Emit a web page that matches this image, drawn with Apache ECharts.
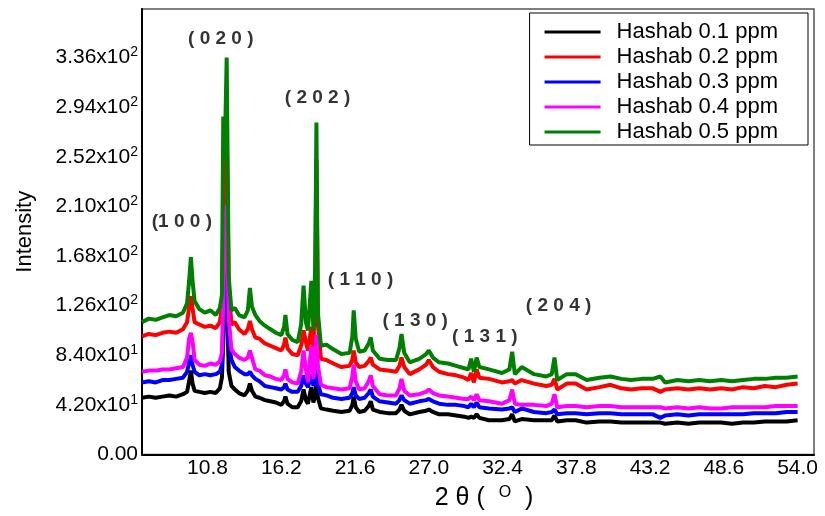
<!DOCTYPE html>
<html>
<head>
<meta charset="utf-8">
<title>XRD Hashab</title>
<script src="https://cdn.jsdelivr.net/npm/echarts@6/dist/echarts.min.js"></script>
<style>
  html, body { margin: 0; padding: 0; background: #fff; }
  #chart { width: 825px; height: 516px; }
</style>
</head>
<body>
<div id="chart"></div>
<script>
// 2 theta positions (deg), shared by all samples
const twoTheta = [
  6.0, 6.5, 7.0, 7.5, 8.0, 8.5, 9.0, 9.3, 9.45, 9.58, 9.7, 9.85, 10.2, 10.6, 11.0, 11.4,
  11.7, 11.85, 11.95, 12.05, 12.2, 12.35, 12.55, 12.8, 13.1, 13.5, 13.75, 13.9, 14.05, 14.3,
  14.6, 15.0, 15.4, 15.8, 16.2, 16.4, 16.5, 16.65, 17.0, 17.4, 17.65, 17.83, 18.0, 18.15,
  18.4, 18.55, 18.68, 18.77, 18.88, 19.1, 19.5, 20.0, 20.6, 21.2, 21.4, 21.5, 21.65, 21.9,
  22.3, 22.6, 22.75, 22.9, 23.4, 24.0, 24.6, 24.85, 25.0, 25.2, 25.6, 26.3, 26.8, 27.0,
  27.3, 27.75, 28.4, 29.0, 29.6, 29.9, 30.1, 30.3, 30.5, 30.7, 31.4, 32.35, 32.9, 33.1,
  33.3, 33.8, 34.7, 35.6, 36.0, 36.2, 36.4, 37.1, 37.75, 38.55, 39.5, 40.3, 41.1, 41.8,
  42.6, 43.4, 43.95, 44.3, 45.2, 46.0, 46.8, 47.6, 48.4, 49.2, 50.0, 50.8, 51.6, 52.4,
  53.2, 54.0
]

const hashab01 = [
  48, 49, 48, 49, 50, 49, 51, 53, 62, 71, 60, 54, 53, 52, 53, 52,
  56, 65, 95, 150, 140, 70, 58, 55, 52, 50, 54, 60, 54, 49,
  48, 46, 45, 44, 42, 45, 49, 43, 40, 40, 45, 55, 46, 43,
  57, 44, 50, 61, 48, 39, 38, 37, 36, 37, 42, 49, 40, 36,
  37, 41, 45, 38, 36, 35, 35, 38, 42, 37, 34, 36, 37, 38,
  36, 34, 34, 33, 32, 31, 32, 31, 34, 31, 29, 29, 30, 34,
  28, 30, 29, 29, 29, 33, 28, 29, 29, 27, 28, 28, 27, 27,
  27, 27, 27, 26, 27, 26, 27, 27, 27, 26, 27, 27, 28, 28,
  28, 29
]

const hashab02 = [
  100, 102, 101, 103, 104, 103, 106, 112, 125, 134, 124, 112, 110, 108, 109, 107,
  112, 125, 200, 240, 283, 140, 110, 112, 106, 102, 106, 113, 106, 99,
  98, 94, 92, 90, 88, 93, 99, 90, 85, 84, 92, 105, 95, 88,
  108, 90, 140, 250, 110, 81, 80, 77, 74, 75, 80, 88, 78, 74,
  75, 79, 82, 76, 72, 71, 70, 75, 82, 74, 68, 72, 76, 80,
  74, 70, 68, 67, 65, 63, 69, 61, 72, 65, 64, 61, 62, 63,
  60, 63, 60, 58, 59, 64, 55, 60, 60, 55, 57, 59, 56, 55,
  56, 56, 53, 55, 56, 55, 56, 55, 56, 55, 57, 56, 58, 57,
  59, 60
]

const hashab03 = [
  61, 62, 61, 63, 63, 64, 65, 70, 78, 84, 76, 70, 67, 68, 67, 68,
  70, 76, 110, 170, 185, 95, 80, 74, 71, 68, 68, 70, 67, 64,
  62, 58, 57, 56, 55, 57, 60, 55, 53, 53, 58, 67, 60, 57,
  68, 58, 62, 74, 60, 51, 50, 48, 47, 48, 52, 57, 50, 47,
  48, 52, 55, 49, 45, 44, 43, 46, 50, 46, 43, 45, 46, 47,
  45, 43, 42, 42, 41, 40, 43, 40, 44, 40, 39, 38, 39, 40,
  36, 39, 36, 35, 36, 38, 34, 35, 35, 34, 35, 35, 34, 34,
  34, 34, 31, 33, 34, 33, 34, 34, 34, 34, 34, 35, 35, 35,
  36, 36
]

const hashab04 = [
  70, 71, 71, 72, 72, 73, 74, 82, 98, 103, 96, 80, 76, 75, 77, 76,
  79, 86, 130, 190, 211, 115, 89, 85, 82, 80, 82, 88, 82, 72,
  71, 67, 66, 64, 63, 67, 72, 64, 61, 60, 70, 88, 72, 61,
  92, 64, 80, 101, 75, 59, 57, 56, 55, 56, 66, 76, 62, 55,
  56, 62, 67, 58, 51, 50, 50, 56, 64, 54, 50, 51, 53, 55,
  52, 50, 49, 48, 47, 47, 49, 46, 51, 46, 45, 43, 46, 55,
  43, 42, 42, 41, 43, 51, 40, 41, 41, 40, 41, 41, 40, 40,
  40, 40, 40, 39, 40, 39, 40, 39, 39, 40, 40, 40, 40, 41,
  41, 41
]

const hashab05 = [
  112, 115, 114, 116, 118, 117, 120, 128, 147, 167, 147, 130, 123, 120, 122, 118,
  124, 135, 286, 250, 336, 150, 122, 124, 118, 116, 122, 141, 125, 118,
  113, 109, 106, 103, 101, 108, 118, 102, 97, 95, 110, 143, 112, 105,
  147, 105, 160, 281, 120, 92, 93, 89, 85, 86, 100, 122, 98, 87,
  88, 94, 99, 88, 81, 80, 80, 90, 102, 86, 78, 81, 85, 88,
  82, 78, 77, 75, 73, 72, 81, 70, 82, 74, 72, 69, 72, 87,
  68, 74, 68, 66, 68, 82, 63, 68, 68, 63, 65, 66, 64, 63,
  64, 64, 66, 61, 63, 62, 63, 62, 63, 62, 63, 64, 64, 65,
  65, 66
]

const seriesNames = ['Hashab 0.1 ppm', 'Hashab 0.2 ppm', 'Hashab 0.3 ppm', 'Hashab 0.4 ppm', 'Hashab 0.5 ppm']
const seriesColors = ['#000000', '#ff0000', '#0000ff', '#ff00ff', '#008000']
const seriesValues = [hashab01, hashab02, hashab03, hashab04, hashab05]

// peak labels: [2theta, intensity, text]
const peakLabels = [
  [8.92, 197, '(1 0 0 )'],
  [11.77, 352, '( 0 2 0 )'],
  [18.85, 302, '( 2 0 2 )'],
  [22.0, 148, '( 1 1 0 )'],
  [26.0, 113, '( 1 3 0 )'],
  [31.1, 100, '( 1 3 1 )'],
  [36.5, 126, '( 2 0 4 )']
]

const xTicks = [10.8, 16.2, 21.6, 27.0, 32.4, 37.8, 43.2, 48.6, 54.0]
const yTicks = [0, 42, 84, 126, 168, 210, 252, 294, 336]

const fontFamily = "'Liberation Sans', Arial, sans-serif"

function sciLabel(v) {
  if (v === 0) return '{b|0.00}'
  const e = Math.floor(Math.log10(v))
  const m = v / Math.pow(10, e)
  return '{b|' + m.toFixed(2) + 'x10}{s|' + e + '}'
}

const chart = echarts.init(document.getElementById('chart'))

const lineSeries = seriesNames.map((name, i) => ({
  name: name,
  type: 'line',
  data: twoTheta.map((x, j) => [x, seriesValues[i][j]]),
  showSymbol: false,
  symbol: 'none',
  lineStyle: { color: seriesColors[i], width: 4 },
  itemStyle: { color: seriesColors[i] },
  animation: false
}))

chart.setOption({
  animation: false,
  grid: {
    left: 142,
    right: 11,
    top: 9,
    bottom: 58,
    show: true,
    borderColor: '#555',
    borderWidth: 1.5
  },
  legend: {
    orient: 'vertical',
    right: 17,
    top: 13,
    data: seriesNames,
    icon: 'rect',
    itemWidth: 56,
    itemHeight: 3,
    itemGap: 3,
    padding: [8, 30, 2, 15],
    borderColor: '#000',
    borderWidth: 1,
    backgroundColor: '#fff',
    textStyle: {
      fontFamily: fontFamily,
      fontSize: 22,
      lineHeight: 22,
      color: '#000',
      padding: [0, 0, 0, 11]
    }
  },
  xAxis: {
    type: 'value',
    min: 6,
    max: 55.2,
    name: '{a|2 θ (  }{s|O}{a|  )}',
    nameLocation: 'middle',
    nameGap: 30,
    nameTextStyle: {
      padding: [0, 0, 0, 12],
      rich: {
        a: { fontFamily: fontFamily, fontSize: 25, color: '#000', lineHeight: 28 },
        s: { fontFamily: fontFamily, fontSize: 16, color: '#000', lineHeight: 28, verticalAlign: 'top' }
      }
    },
    axisLine: { lineStyle: { color: '#000', width: 2 } },
    axisTick: { show: false },
    splitLine: { show: false },
    axisLabel: {
      customValues: xTicks,
      formatter: v => v.toFixed(1),
      fontFamily: fontFamily,
      fontSize: 21,
      color: '#000',
      margin: 3
    }
  },
  yAxis: {
    type: 'value',
    min: 0,
    max: 377,
    name: 'Intensity',
    nameLocation: 'middle',
    nameRotate: 90,
    nameGap: 106,
    nameTextStyle: { fontFamily: fontFamily, fontSize: 22, color: '#000', padding: [0, 0, 0, 0] },
    axisLine: { show: true, lineStyle: { color: '#000', width: 2 } },
    axisTick: { show: false },
    splitLine: { show: false },
    axisLabel: {
      customValues: yTicks,
      formatter: sciLabel,
      margin: 4,
      rich: {
        b: { fontFamily: fontFamily, fontSize: 21, color: '#000', lineHeight: 24 },
        s: { fontFamily: fontFamily, fontSize: 14, color: '#000', lineHeight: 24, verticalAlign: 'top' }
      }
    }
  },
  series: lineSeries.concat([{
    name: 'peaks',
    type: 'scatter',
    silent: true,
    symbolSize: 0,
    z: 10,
    data: peakLabels.map(p => ({ value: [p[0], p[1]], name: p[2] })),
    label: {
      show: true,
      position: 'inside',
      formatter: p => p.name,
      fontFamily: fontFamily,
      fontWeight: 'bold',
      fontSize: 19,
      color: '#000'
    }
  }])
})
</script>
</body>
</html>
